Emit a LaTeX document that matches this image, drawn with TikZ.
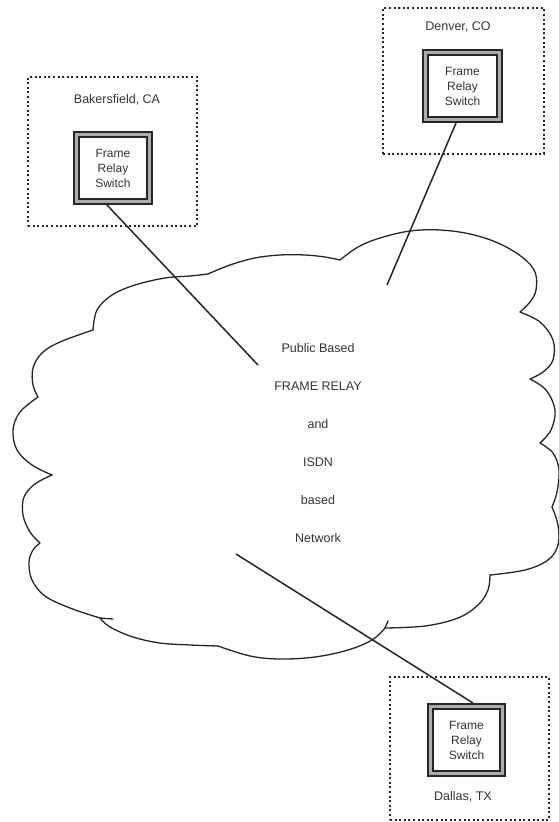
\documentclass[tikz,border=0pt]{standalone}
\usepackage{fontspec}
\setmainfont{Liberation Sans}
\begin{document}
\begin{tikzpicture}[x=1pt,y=-1pt,
  sitebox/.style={draw=black!85, line width=1.2pt, dash pattern=on 2pt off 2.6pt, inner sep=0pt},
  switchbox/.style={draw=black!85, line width=2pt, double=gray!65, double distance=3pt,
    fill=white, inner sep=0pt, outer sep=3.5pt, align=center, text=black!80,
    font=\fontsize{12}{15}\selectfont},
  sitelabel/.style={font=\fontsize{12.5}{15}\selectfont, text=black!80, inner sep=0pt},
  netlabel/.style={font=\fontsize{12.5}{38}\selectfont, text=black!80, align=center, inner sep=0pt},
  cloudline/.style={line width=1.3pt, black!85, line cap=round, line join=round},
  link/.style={line width=1.5pt, black!85}]
\useasboundingbox (0,0) rectangle (559,822);
\fill[white] (0,0) rectangle (559,822);

% cloud
\draw[cloudline] plot[smooth,tension=0.6] coordinates {(93,330) (97,310) (112,295) (135,285) (165,278) (190,276) (208,274)};
\draw[cloudline] plot[smooth,tension=0.6] coordinates {(208,274) (230,265) (255,258) (280,255) (305,255) (325,257) (340,260)};
\draw[cloudline] plot[smooth,tension=0.6] coordinates {(340,260) (358,247) (380,238) (410,231) (440,230) (470,234) (498,243) (522,257) (535,272) (536,290) (530,302) (520,312)};
\draw[cloudline] plot[smooth,tension=0.6] coordinates {(520,312) (540,322) (553,340) (553,360) (543,372) (530,379)};
\draw[cloudline] plot[smooth,tension=0.6] coordinates {(530,379) (546,390) (555,410) (551,430) (540,443)};
\draw[cloudline] plot[smooth,tension=0.6] coordinates {(540,443) (553,453) (559,470) (557,492) (552,507)};
\draw[cloudline] plot[smooth,tension=0.6] coordinates {(552,507) (558,525) (558,545) (548,560) (525,570) (490,575)};
\draw[cloudline] plot[smooth,tension=0.6] coordinates {(490,575) (488,590) (478,605) (458,618) (425,626) (385,628)};
\draw[cloudline] (385,628) -- (388,621);
\draw[cloudline] plot[smooth,tension=0.6] coordinates {(385,628) (372,640) (348,650) (315,657) (280,659) (250,656) (218,646)};
\draw[cloudline] plot[smooth,tension=0.6] coordinates {(218,646) (190,645) (160,643) (133,637) (110,627) (100,618)};
\draw[cloudline] (100,618) -- (113,619);
\draw[cloudline] plot[smooth,tension=0.6] coordinates {(100,618) (70,608) (45,596) (32,580) (29,562) (33,550) (40,543)};
\draw[cloudline] plot[smooth,tension=0.6] coordinates {(40,543) (30,532) (23,515) (24,497) (35,484) (52,475)};
\draw[cloudline] plot[smooth,tension=0.6] coordinates {(52,475) (32,465) (17,450) (13,430) (20,412) (38,397)};
\draw[cloudline] plot[smooth,tension=0.6] coordinates {(38,397) (33,385) (33,368) (42,353) (60,342) (93,330)};

\node[netlabel] (net) at (318,443) {Public Based\\FRAME RELAY\\and\\ISDN\\based\\Network};

% sites
\node[sitebox, minimum width=169pt, minimum height=149pt] (bsite) at (112.5,151.5) {};
\node[sitelabel] (blabel) at (117,100) {Bakersfield, CA};
\node[switchbox, minimum width=73pt, minimum height=67pt] (bsw) at (113,168) {Frame\\Relay\\Switch};

\node[sitebox, minimum width=161pt, minimum height=146pt] (dsite) at (463.5,81) {};
\node[sitelabel] (dlabel) at (458,27) {Denver, CO};
\node[switchbox, minimum width=74pt, minimum height=67pt] (dsw) at (462.5,86) {Frame\\Relay\\Switch};

\node[sitebox, minimum width=159pt, minimum height=143pt] (xsite) at (469.5,748.5) {};
\node[sitelabel] (xlabel) at (463,797) {Dallas, TX};
\node[switchbox, minimum width=72pt, minimum height=67pt] (xsw) at (466.5,740) {Frame\\Relay\\Switch};

% connectors
\coordinate (bend) at (258,365);
\coordinate (dend) at (387,285);
\coordinate (xend) at (236,554);
\draw[link] ([xshift=-6pt]bsw.south) -- (bend);
\draw[link] ([xshift=-6.5pt]dsw.south) -- (dend);
\draw[link] (xend) -- ([xshift=6.5pt]xsw.north);
\end{tikzpicture}
\end{document}
